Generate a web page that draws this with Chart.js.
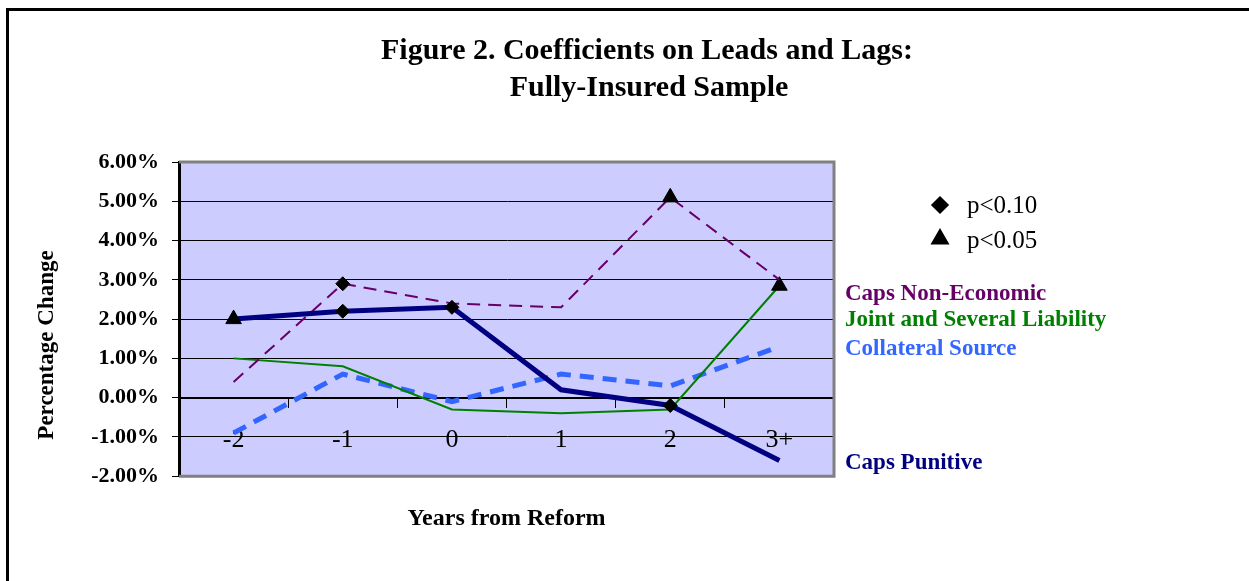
<!DOCTYPE html>
<html>
<head>
<meta charset="utf-8">
<title>Figure 2</title>
<script src="https://cdn.jsdelivr.net/npm/chart.js@4/dist/chart.umd.min.js"></script>
<style>
    body { margin: 0; background: #fff; }
    #wrap { position: relative; width: 1249px; height: 581px; }
</style>
</head>
<body>
<div id="wrap"><canvas id="chart" width="1249" height="581"></canvas></div>
<script>
// Chart data
const years = ['-2', '-1', '0', '1', '2', '3+'];
const yTicks = [-2, -1, 0, 1, 2, 3, 4, 5, 6];

const capsNonEconomic = [0.4, 2.9, 2.4, 2.3, 5.1, 3.0];
const jointSeveral = [1.0, 0.8, -0.3, -0.4, -0.3, 2.85];
const collateralSource = [-0.9, 0.6, -0.1, 0.6, 0.3, 1.3];
const capsPunitive = [2.0, 2.2, 2.3, 0.2, -0.2, -1.6];

// significance markers: 'p10' diamond, 'p05' triangle
const capsNonEconomicSig = ['', 'p10', '', '', 'p05', ''];
const jointSeveralSig = ['', '', '', '', '', 'p05'];
const collateralSourceSig = ['', '', '', '', '', ''];
const capsPunitiveSig = ['p05', 'p10', 'p10', '', 'p10', ''];

const SERIF = '"Liberation Serif", "Times New Roman", serif';

function markerStyle(sig) {
    return sig.map(s => (s === 'p05' ? 'triangle' : 'rectRot'));
}
function markerRadius(sig) {
    return sig.map(s => (s === 'p05' ? 9 : s === 'p10' ? 7 : 0));
}

function series(label, data, sig, color, width, dash) {
    return {
        label: label,
        data: data,
        borderColor: color,
        borderWidth: width,
        borderDash: dash,
        borderCapStyle: 'butt',
        tension: 0,
        fill: false,
        pointStyle: markerStyle(sig),
        pointRadius: markerRadius(sig),
        pointHoverRadius: markerRadius(sig),
        pointBackgroundColor: '#000',
        pointBorderColor: '#000',
        pointBorderWidth: 1,
    };
}

// Background, frame, titles, plot border and the side legend
const decorations = {
    id: 'decorations',
    beforeDraw(chart) {
        const { ctx, chartArea: a } = chart;
        ctx.save();
        ctx.fillStyle = '#fff';
        ctx.fillRect(0, 0, chart.width, chart.height);
        ctx.fillStyle = '#000';
        ctx.fillRect(6, 8, 3, chart.height - 8);
        ctx.fillRect(6, 8, chart.width - 6, 3);
        ctx.fillStyle = '#CCCCFF';
        ctx.fillRect(a.left, a.top, a.right - a.left, a.bottom - a.top);

        // figure title
        ctx.fillStyle = '#000';
        ctx.textAlign = 'center';
        ctx.textBaseline = 'middle';
        ctx.font = 'bold 30px ' + SERIF;
        ctx.fillText('Figure 2. Coefficients on Leads and Lags:', 647, 51);
        ctx.fillText('Fully-Insured Sample', 649, 88);

        // y axis title
        ctx.save();
        ctx.translate(47, 345);
        ctx.rotate(-Math.PI / 2);
        ctx.font = 'bold 23px ' + SERIF;
        ctx.fillText('Percentage Change', 0, 0);
        ctx.restore();
        ctx.restore();
    },
    afterDraw(chart) {
        const { ctx, chartArea: a } = chart;
        ctx.save();
        ctx.strokeStyle = '#808080';
        ctx.lineWidth = 3;
        ctx.beginPath();
        ctx.moveTo(a.left, a.top);
        ctx.lineTo(a.right, a.top);
        ctx.lineTo(a.right, a.bottom);
        ctx.lineTo(a.left, a.bottom);
        ctx.stroke();

        // significance key
        const kx = a.right + 106;
        ctx.fillStyle = '#000';
        ctx.strokeStyle = '#000';
        Chart.helpers.drawPoint(ctx, { pointStyle: 'rectRot', radius: 7, borderWidth: 1 }, kx, 205);
        Chart.helpers.drawPoint(ctx, { pointStyle: 'triangle', radius: 8, borderWidth: 1 }, kx, 239);
        ctx.font = '25px ' + SERIF;
        ctx.textBaseline = 'middle';
        ctx.textAlign = 'left';
        ctx.fillText('p<0.10', kx + 27, 206);
        ctx.fillText('p<0.05', kx + 27, 241);

        // series names
        const names = [
            ['Caps Non-Economic', '#660066', 294],
            ['Joint and Several Liability', '#008000', 320],
            ['Collateral Source', '#3366FF', 349],
            ['Caps Punitive', '#000080', 463],
        ];
        ctx.font = 'bold 23px ' + SERIF;
        names.forEach(n => {
            ctx.fillStyle = n[1];
            ctx.fillText(n[0], a.right + 11, n[2]);
        });
        ctx.restore();
    },
};

const ctx = document.getElementById('chart').getContext('2d');
new Chart(ctx, {
    type: 'line',
    data: {
        labels: years,
        datasets: [
            Object.assign(series('Caps Punitive', capsPunitive, capsPunitiveSig, '#000080', 5, []), { order: 0 }),
            Object.assign(series('Caps Non-Economic', capsNonEconomic, capsNonEconomicSig, '#660066', 2, [13, 8]), { order: 1 }),
            Object.assign(series('Joint and Several Liability', jointSeveral, jointSeveralSig, '#008000', 2, []), { order: 2 }),
            Object.assign(series('Collateral Source', collateralSource, collateralSourceSig, '#3366FF', 5, [14, 9]), { order: 3 }),
        ],
    },
    options: {
        responsive: false,
        animation: false,
        layout: {
            padding: { left: 0, right: 415, top: 162, bottom: 0 },
        },
        plugins: {
            legend: { display: false },
            tooltip: { enabled: false },
            title: { display: false },
        },
        scales: {
            x: {
                type: 'category',
                position: { y: 0 },
                offset: true,
                border: { display: true, color: '#000', width: 2 },
                grid: {
                    display: true,
                    drawOnChartArea: false,
                    drawTicks: true,
                    tickLength: 9,
                    tickColor: '#000',
                    offset: true,
                },
                ticks: {
                    color: '#000',
                    font: { family: SERIF, size: 26 },
                    padding: 18,
                    maxRotation: 0,
                },
            },
            x2: {
                type: 'category',
                position: 'bottom',
                offset: true,
                border: { display: false },
                grid: { display: false, drawTicks: false },
                ticks: { display: false },
                title: {
                    display: true,
                    text: 'Years from Reform',
                    color: '#000',
                    font: { family: SERIF, size: 24, weight: 'bold', lineHeight: 1.2 },
                    padding: { top: 28, bottom: 48 },
                },
            },
            y: {
                min: -2,
                max: 6,
                afterBuildTicks(scale) {
                    scale.ticks = yTicks.map(v => ({ value: v }));
                },
                afterFit(scale) {
                    scale.width = 179;
                },
                border: { display: true, color: '#000', width: 3 },
                grid: {
                    color: '#000',
                    lineWidth: 1,
                    drawTicks: true,
                    tickLength: 7,
                    tickColor: '#000',
                },
                ticks: {
                    color: '#000',
                    font: { family: SERIF, size: 22, weight: 'bold' },
                    padding: 13,
                    callback: v => v.toFixed(2) + '%',
                },
            },
        },
    },
    plugins: [decorations],
});
</script>
</body>
</html>
